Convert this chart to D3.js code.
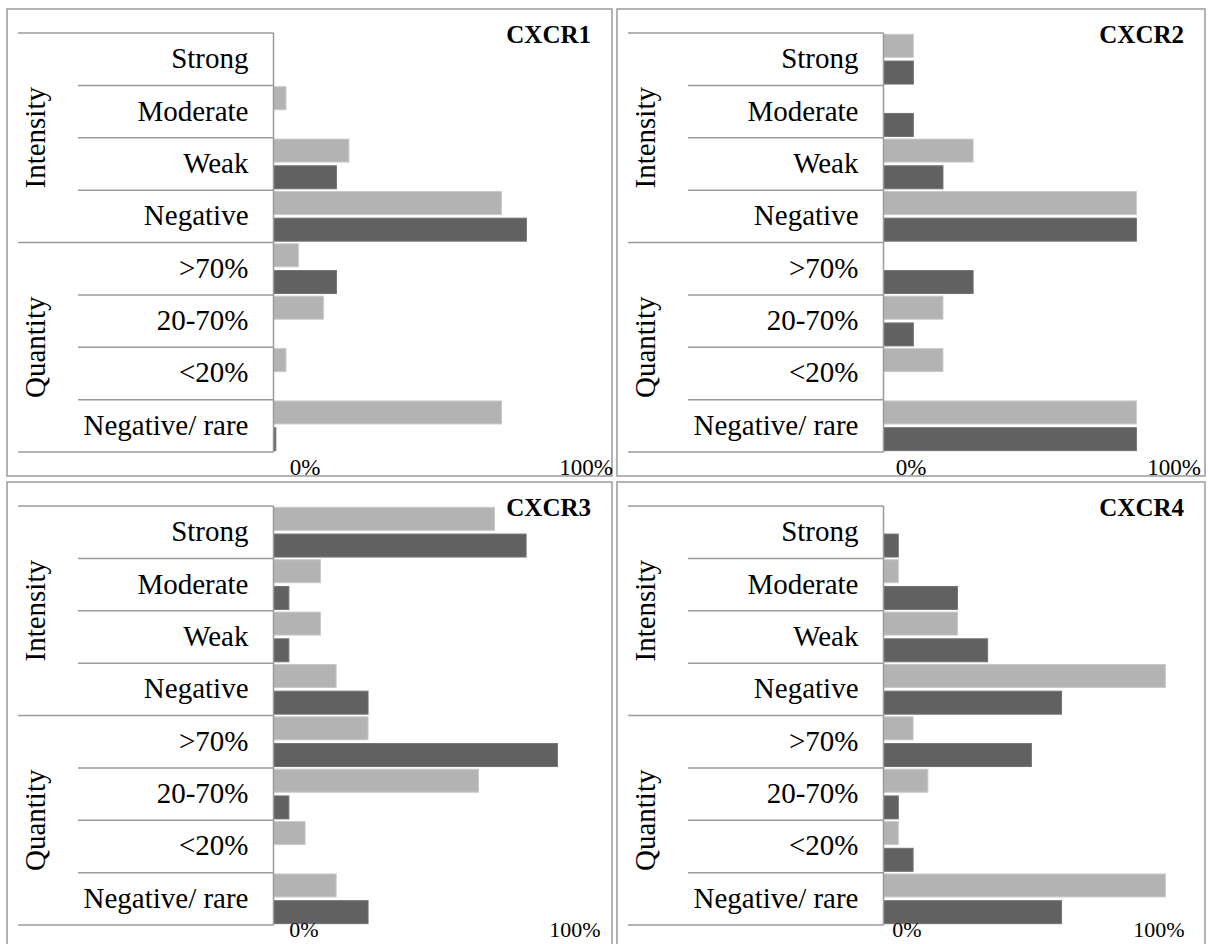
<!DOCTYPE html>
<html><head><meta charset="utf-8">
<script src="https://cdn.jsdelivr.net/npm/d3@7"></script>
<style>
html,body{margin:0;padding:0;background:#fff;}
svg{display:block;}
</style></head>
<body>
<svg id="chart" width="1208" height="944"></svg>
<script>
// ---- data ----
const categories = ["Strong","Moderate","Weak","Negative",">70%","20-70%","<20%","Negative/ rare"];
const groups = ["Intensity","Quantity"];
const groupSizes = [4,4];
const titles = ["CXCR1","CXCR2","CXCR3","CXCR4"];
const series = ["light","dark"];
const tickValues = [0,100];
const tickLabels = ["0%","100%"];
// values in percent, one array per panel & series
const cxcr1Light = [0, 4.3, 26.0, 78.6, 8.6, 17.2, 4.3, 78.6];
const cxcr1Dark  = [0, 0, 21.7, 87.2, 21.7, 0, 0, 0.8];
const cxcr2Light = [10.3, 0, 30.9, 87.2, 0, 20.5, 20.5, 87.2];
const cxcr2Dark  = [10.3, 10.3, 20.5, 87.2, 30.9, 10.3, 0, 87.2];
const cxcr3Light = [76.2, 16.2, 16.2, 21.6, 32.6, 70.7, 10.9, 21.6];
const cxcr3Dark  = [87.1, 5.3, 5.3, 32.6, 97.9, 5.3, 0, 32.6];
const cxcr4Light = [0, 5.1, 25.5, 97.2, 10.2, 15.3, 5.1, 97.2];
const cxcr4Dark  = [5.1, 25.5, 35.9, 61.4, 51.0, 5.1, 10.2, 61.4];
const panelData = [[cxcr1Light,cxcr1Dark],[cxcr2Light,cxcr2Dark],[cxcr3Light,cxcr3Dark],[cxcr4Light,cxcr4Dark]];

// ---- layout ----
const panels = [
  {x:7,   y:9,   w:605, h:467, tickDx:[31,22], tickDy:23, tickSize:23},
  {x:617, y:9,   w:588, h:467, tickDx:[27,0],  tickDy:23, tickSize:23},
  {x:7,   y:482, w:605, h:467, tickDx:[30,11], tickDy:12, tickSize:22},
  {x:617, y:482, w:588, h:467, tickDx:[23,-15],tickDy:12, tickSize:22}
];
const FONT = "'Liberation Serif','Times New Roman',Times,'DejaVu Serif',serif";
const colors = {light:"#b3b3b3", dark:"#616161"};
const strokes = {light:"#c9c9c9", dark:"#727272"};
const lineColor = "#9a9a9a";

const svg = d3.select("#chart");

panels.forEach((p,i)=>{
  const g = svg.append("g").attr("transform",`translate(${p.x},${p.y})`);
  g.append("rect").attr("x",0).attr("y",0).attr("width",p.w).attr("height",p.h)
    .attr("fill","#fff").attr("stroke",lineColor).attr("stroke-width",1.5);

  const base = 266.5, tableLeft = 11, innerLeft = 71, top = 24, bottom = 443;
  const y = d3.scaleBand().domain(categories).range([top,bottom]).paddingInner(0).paddingOuter(0);
  const ySub = d3.scaleBand().domain(series).range([0,y.bandwidth()]).paddingInner(0.14).paddingOuter(0.05);
  const x = d3.scaleLinear().domain([0,100]).range([base, base+290]);

  // bars
  series.forEach((s,si)=>{
    const vals = panelData[i][si];
    g.append("g").selectAll("rect").data(categories.map((c,ci)=>({c,v:vals[ci]})).filter(d=>d.v>0))
      .join("rect")
      .attr("x",x(0))
      .attr("y",d=>y(d.c)+ySub(s))
      .attr("width",d=>x(d.v)-x(0))
      .attr("height",ySub.bandwidth())
      .attr("fill",colors[s])
      .attr("stroke",strokes[s]).attr("stroke-width",1);
  });

  // table lines
  let idx = 0;
  const starts = [0];
  groupSizes.forEach(n=>{ idx+=n; starts.push(idx); });
  categories.forEach((c,ci)=>{
    const isGroupEdge = starts.includes(ci);
    g.append("line").attr("x1", isGroupEdge?tableLeft:innerLeft).attr("x2",base)
      .attr("y1",y(c)).attr("y2",y(c)).attr("stroke",lineColor).attr("stroke-width",1.5);
  });
  g.append("line").attr("x1",tableLeft).attr("x2",base).attr("y1",bottom).attr("y2",bottom)
    .attr("stroke",lineColor).attr("stroke-width",1.5);
  g.append("line").attr("x1",base).attr("x2",base).attr("y1",top).attr("y2",bottom)
    .attr("stroke",lineColor).attr("stroke-width",1.5);

  // category labels
  g.append("g").selectAll("text").data(categories).join("text")
    .attr("x",base-25).attr("y",d=>y(d)+y.bandwidth()/2+9)
    .attr("text-anchor","end").attr("font-family",FONT).attr("font-size",29).attr("fill","#000")
    .text(d=>d);

  // group labels
  groups.forEach((grp,k)=>{
    const c0 = categories[starts[k]], c1 = categories[starts[k+1]-1];
    const cy = (y(c0) + y(c1)+y.bandwidth())/2;
    g.append("text").attr("transform",`translate(38,${cy}) rotate(-90)`)
      .attr("text-anchor","middle").attr("font-family",FONT).attr("font-size",29).attr("fill","#000")
      .text(grp);
  });

  // title
  g.append("text").attr("x",p.w-21).attr("y",34).attr("text-anchor","end")
    .attr("font-family",FONT).attr("font-size",25).attr("font-weight","bold").attr("fill","#000")
    .text(titles[i]);

  // value axis labels
  const axis = d3.axisBottom(x).tickValues(tickValues).tickFormat((d,k)=>tickLabels[k]).tickSize(0);
  const ax = g.append("g").attr("transform",`translate(0,${bottom})`).call(axis);
  ax.attr("font-family",null).attr("font-size",null);
  ax.select(".domain").remove();
  ax.selectAll("text").attr("y",0).attr("dy",0)
    .attr("transform",(d,k)=>`translate(${p.tickDx[k]},${p.tickDy})`)
    .attr("fill","#000").attr("font-family",FONT).attr("font-size",p.tickSize);
});
</script>
</body></html>
